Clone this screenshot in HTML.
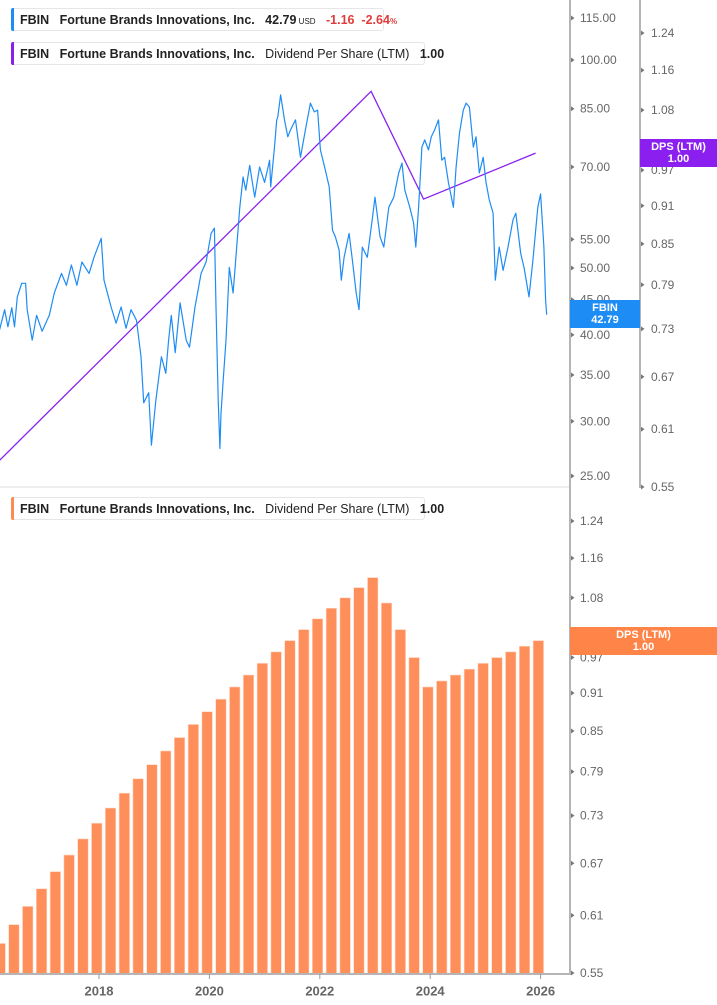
<!DOCTYPE html>
<html><head><meta charset="utf-8">
<style>
html,body{margin:0;padding:0;background:#fff;}
body{width:717px;height:1005px;overflow:hidden;position:relative;font-family:"Liberation Sans",sans-serif;}
svg{position:absolute;left:0;top:0;}
.leg{position:absolute;left:11px;height:23px;background:#fff;border:1px solid #e6e6e6;border-radius:3px;font-size:12.5px;line-height:23px;color:#222;white-space:nowrap;padding:0 8px 0 8px;box-sizing:border-box;}
.leg .bar{position:absolute;left:-1px;top:-1px;bottom:-1px;width:3px;border-radius:2px 0 0 2px;}
.b{font-weight:bold;}
.tag{position:absolute;color:#fff;font-weight:bold;font-size:11px;line-height:12px;text-align:center;box-sizing:border-box;padding-top:2px;}
</style></head><body>
<svg id="chart" width="717" height="1005"></svg>

<div class="leg" style="top:8px;width:373px"><span class="bar" style="background:#1e8cf5"></span><span class="b">FBIN</span>&nbsp;&nbsp; <span class="b">Fortune Brands Innovations, Inc.</span>&nbsp;&nbsp; <span class="b">42.79</span><span style="font-size:8px"> USD</span>&nbsp;&nbsp; <span class="b" style="color:#e03c3c">-1.16&nbsp;&nbsp;-2.64<span style="font-size:8px">%</span></span></div>
<div class="leg" style="top:42px;width:414px"><span class="bar" style="background:#8a1ff0"></span><span class="b">FBIN</span>&nbsp;&nbsp; <span class="b">Fortune Brands Innovations, Inc.</span>&nbsp;&nbsp; Dividend Per Share (LTM)&nbsp;&nbsp; <span class="b">1.00</span></div>
<div class="leg" style="top:497px;width:414px"><span class="bar" style="background:#ff8a50"></span><span class="b">FBIN</span>&nbsp;&nbsp; <span class="b">Fortune Brands Innovations, Inc.</span>&nbsp;&nbsp; Dividend Per Share (LTM)&nbsp;&nbsp; <span class="b">1.00</span></div>

<div class="tag" style="left:570px;top:300px;width:70px;height:28px;background:#1e8cf5">FBIN<br>42.79</div>
<div class="tag" style="left:640px;top:139px;width:77px;height:28px;background:#8a1ff0">DPS (LTM)<br>1.00</div>
<div class="tag" style="left:570px;top:627px;width:147px;height:28px;background:#ff8448">DPS (LTM)<br>1.00</div>

<script>
// ---- data ----
const priceDates=[2016.20,2016.29,2016.35,2016.42,2016.47,2016.52,2016.60,2016.67,2016.70,2016.79,2016.87,2016.97,2017.10,2017.19,2017.32,2017.41,2017.50,2017.60,2017.69,2017.82,2017.91,2018.04,2018.09,2018.22,2018.31,2018.40,2018.49,2018.58,2018.68,2018.76,2018.81,2018.90,2018.95,2019.03,2019.13,2019.21,2019.26,2019.31,2019.38,2019.47,2019.58,2019.64,2019.74,2019.85,2019.94,2020.03,2020.09,2020.12,2020.16,2020.19,2020.21,2020.25,2020.30,2020.36,2020.43,2020.48,2020.55,2020.61,2020.66,2020.73,2020.82,2020.91,2021.00,2021.09,2021.11,2021.18,2021.22,2021.24,2021.29,2021.36,2021.42,2021.47,2021.56,2021.65,2021.74,2021.83,2021.90,2021.96,2022.01,2022.10,2022.17,2022.23,2022.28,2022.35,2022.39,2022.44,2022.53,2022.59,2022.66,2022.71,2022.77,2022.86,2022.95,2023.00,2023.09,2023.16,2023.25,2023.34,2023.43,2023.49,2023.54,2023.63,2023.70,2023.74,2023.79,2023.85,2023.90,2023.97,2024.02,2024.08,2024.15,2024.21,2024.26,2024.33,2024.42,2024.47,2024.53,2024.60,2024.65,2024.71,2024.78,2024.83,2024.89,2024.96,2025.01,2025.07,2025.14,2025.18,2025.25,2025.32,2025.41,2025.50,2025.55,2025.64,2025.70,2025.79,2025.86,2025.95,2026.00,2026.06,2026.09,2026.11];
const priceValues=[40.7,43.5,41.1,43.8,41.1,45.4,47.5,47.5,43.5,39.3,42.7,40.5,42.7,46.0,49.1,47.2,50.5,47.2,51.0,49.1,51.8,55.2,48.0,43.9,41.6,43.9,40.9,43.5,42.0,37.2,31.9,33.0,27.7,32.2,37.2,35.2,39.3,42.7,37.7,44.5,39.3,38.4,43.9,49.1,51.0,56.1,57.1,43.9,32.2,27.4,30.8,34.4,39.3,50.1,46.0,51.8,61.2,67.7,64.8,70.4,63.3,70.0,66.5,71.6,65.5,74.8,81.9,82.7,89.0,81.9,77.4,79.2,81.9,72.3,79.2,86.6,84.1,84.6,74.1,69.3,65.5,56.7,55.5,53.1,48.0,51.8,56.1,51.3,46.0,43.5,53.6,51.8,58.7,63.3,55.5,53.6,61.2,63.3,68.6,70.9,64.8,61.2,58.1,53.6,61.2,74.8,76.6,74.1,77.4,79.2,81.9,71.6,72.3,66.5,61.2,70.0,78.4,84.6,86.6,85.5,74.8,77.4,68.6,72.3,66.5,62.7,60.0,48.0,53.6,49.6,53.6,58.7,60.0,52.5,50.1,45.4,51.3,61.2,64.0,53.6,44.9,42.79];
const dpsLineDates=[2016.20,2022.93,2023.88,2025.91];
const dpsLineValues=[0.577,1.117,0.921,1.00];
const dpsBarDates=[2016.25,2016.50,2016.75,2017.00,2017.25,2017.50,2017.75,2018.00,2018.25,2018.50,2018.75,2019.00,2019.25,2019.50,2019.75,2020.00,2020.25,2020.50,2020.75,2021.00,2021.25,2021.50,2021.75,2022.00,2022.25,2022.50,2022.75,2023.00,2023.25,2023.50,2023.75,2024.00,2024.25,2024.50,2024.75,2025.00,2025.25,2025.50,2025.75,2026.00];
const dpsBarValues=[0.58,0.60,0.62,0.64,0.66,0.68,0.70,0.72,0.74,0.76,0.78,0.80,0.82,0.84,0.86,0.88,0.90,0.92,0.94,0.96,0.98,1.00,1.02,1.04,1.06,1.08,1.10,1.12,1.07,1.02,0.97,0.92,0.93,0.94,0.95,0.96,0.97,0.98,0.99,1.00];
const priceTicks=[115,100,85,70,55,50,45,40,35,30,25];
const dpsTicks=[1.24,1.16,1.08,1.00,0.97,0.91,0.85,0.79,0.73,0.67,0.61,0.55];
const yearTicks=[2018,2020,2022,2024,2026];

// ---- scales ----
const NS="http://www.w3.org/2000/svg";
const svg=document.getElementById('chart');
function x(t){return 99+(t-2018)*55.2;}
function yPrice(p){return 18+Math.log(115/p)*300.1;}
function yDpsTop(v){return 33+Math.log(1.24/v)*558.5;}
function yDpsBot(v){return 521+Math.log(1.24/v)*556;}
function mk(tag,attrs){const e=document.createElementNS(NS,tag);for(const k in attrs)e.setAttribute(k,attrs[k]);svg.appendChild(e);return e;}

let sep=mk('line',{x1:0,y1:487,x2:570,y2:487,stroke:'#ddd','stroke-width':1});



dpsBarDates.forEach((t,i)=>{
  const yt=yDpsBot(dpsBarValues[i]);
  const r=mk('rect',{x:x(t)-7.5,y:yt,width:10.5,height:974-yt,fill:'#ff8f5a',stroke:'#ffd9c8','stroke-width':0.6});
  
  
});

let d='';dpsLineDates.forEach((t,i)=>{d+=(i?'L':'M')+x(t).toFixed(1)+','+yDpsTop(dpsLineValues[i]).toFixed(1);});
let dl=mk('path',{d:d,fill:'none',stroke:'#8a1ff0','stroke-width':1.3});



d='';priceDates.forEach((t,i)=>{d+=(i?'L':'M')+x(t).toFixed(1)+','+yPrice(priceValues[i]).toFixed(1);});
let pl=mk('path',{d:d,fill:'none',stroke:'#1e8cf5','stroke-width':1.2,'stroke-linejoin':'round'});



let a1=mk('line',{x1:570,y1:0,x2:570,y2:974,stroke:'#b5b5b5','stroke-width':2});


let a2=mk('line',{x1:640,y1:0,x2:640,y2:488,stroke:'#b5b5b5','stroke-width':2});


let a3=mk('line',{x1:0,y1:974,x2:571,y2:974,stroke:'#b5b5b5','stroke-width':2});



function tickMark(xx,yy){const p=mk('path',{d:`M${xx},${yy-2.5}L${xx+3.5},${yy}L${xx},${yy+2.5}Z`,fill:'#777'});}
function label(txt,xx,yy,anchor,bold,name){const t=mk('text',{x:xx,y:yy,'font-size':bold?13:12,'font-family':'Liberation Sans, sans-serif',fill:'#666','font-weight':bold?'bold':'normal','text-anchor':anchor||'start','dominant-baseline':'central'});t.textContent=txt;}

priceTicks.forEach(p=>{const yy=yPrice(p);tickMark(571,yy);label(p.toFixed(2),580,yy,'start',false,'price-tick-label');});
dpsTicks.forEach(v=>{const yy=yDpsTop(v);tickMark(641,yy);label(v.toFixed(2),651,yy,'start',false,'dps-tick-label-top');});
dpsTicks.forEach(v=>{const yy=yDpsBot(v);tickMark(571,yy);label(v.toFixed(2),580,yy,'start',false,'dps-tick-label-bottom');});
yearTicks.forEach(yr=>{const xx=x(yr);let l=mk('line',{x1:xx,y1:974,x2:xx,y2:979,stroke:'#999','stroke-width':1});label(String(yr),xx,991,'middle',true,'x-tick-label');});
</script>
</body></html>
